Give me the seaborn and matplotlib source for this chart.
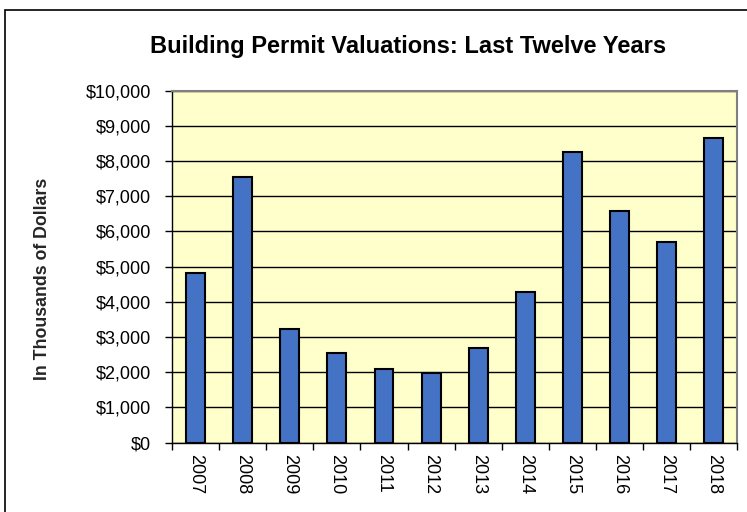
import matplotlib
matplotlib.use("Agg")
import matplotlib.pyplot as plt
import seaborn as sns
import pandas as pd
from matplotlib.ticker import FuncFormatter, MultipleLocator, FixedLocator
from matplotlib.patches import Rectangle

years = ["2007", "2008", "2009", "2010", "2011", "2012",
         "2013", "2014", "2015", "2016", "2017", "2018"]
valuations = [4820, 7530, 3215, 2530, 2080, 1970,
              2680, 4280, 8260, 6590, 5700, 8640]
title = "Building Permit Valuations: Last Twelve Years"
ylabel = "In Thousands of Dollars"

df = pd.DataFrame({"Year": years, "Value": valuations})

sns.set_theme(style="white")
plt.rcParams["font.family"] = ["Liberation Sans", "DejaVu Sans"]

fig = plt.figure(figsize=(7.47, 5.12), dpi=100)
ax = fig.add_axes([0.2303, 0.1357, 0.987 - 0.2303, 0.8232 - 0.1357])

sns.barplot(data=df, x="Year", y="Value", color="#4472C4", saturation=1,
            width=0.4, edgecolor="black", linewidth=1.5, ax=ax, zorder=3)

ax.set_facecolor("#FFFFCC")
ax.set_ylim(0, 10000)
ax.set_xlim(-0.5, len(years) - 0.5)
ax.yaxis.set_major_locator(MultipleLocator(1000))
ax.yaxis.set_major_formatter(FuncFormatter(lambda v, p: f"${v:,.0f}"))
ax.set_axisbelow(True)
ax.grid(axis="y", color="black", linewidth=1.0)
ax.grid(axis="x", visible=False)

ax.set_xlabel("")
ax.set_ylabel(ylabel, fontsize=12.8, fontweight="bold")
ax.yaxis.set_label_coords(-0.232 + 10 / 565, 0.464)

for lbl in ax.get_xticklabels():
    lbl.set_rotation(270)
    lbl.set_fontsize(13)
ax.tick_params(axis="x", which="major", length=0, pad=8, colors="black")
ax.xaxis.set_minor_locator(FixedLocator([i - 0.5 for i in range(len(years) + 1)]))
ax.tick_params(axis="x", which="minor", length=5, width=1, color="black", bottom=True)
ax.tick_params(axis="y", which="major", length=5, width=1, color="black",
               left=True, labelsize=13, labelcolor="black", pad=10)

for side in ["left", "bottom"]:
    ax.spines[side].set_color("black")
    ax.spines[side].set_linewidth(1.0)
for side in ["top", "right"]:
    ax.spines[side].set_visible(True)
    ax.spines[side].set_color("#808080")
    ax.spines[side].set_linewidth(1.5)

fig.text(0.546, 1 - 47 / 512, title, ha="center", va="center",
         fontsize=17, fontweight="bold", color="black")

fig.patches.append(Rectangle((5 / 747, -0.1), 1.2, 1 - 10 / 512 + 0.1,
                             transform=fig.transFigure, fill=False,
                             edgecolor="black", linewidth=1.2))

fig.savefig("out.png", dpi=100)
